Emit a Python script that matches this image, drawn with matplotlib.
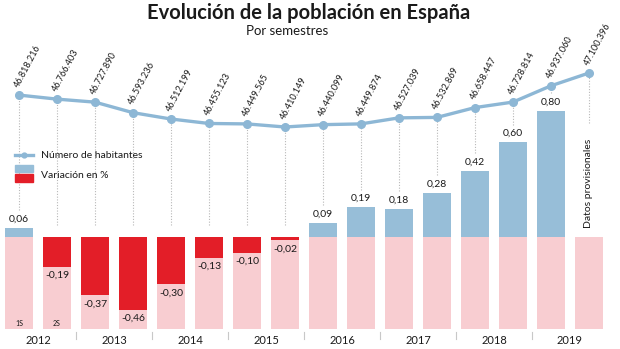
import matplotlib
matplotlib.use("Agg")
import matplotlib.pyplot as plt
import numpy as np

plt.rcParams['font.family'] = ['Lato', 'DejaVu Sans']

# ---- data ----
semesters = ["1S", "2S"] * 8
years = ["2012", "2013", "2014", "2015", "2016", "2017", "2018", "2019"]
population = [46818216, 46766403, 46727890, 46593236, 46512199, 46455123,
              46449565, 46410149, 46440099, 46449874, 46527039, 46532869,
              46658447, 46728814, 46937060, 47100396]
variation = [0.06, -0.19, -0.37, -0.46, -0.30, -0.13, -0.10, -0.02,
             0.09, 0.19, 0.18, 0.28, 0.42, 0.60, 0.80, None]
title = "Evolución de la población en España"
subtitle = "Por semestres"
legend_line = "Número de habitantes"
legend_bar = "Variación en %"
provisional = "Datos provisionales"

# ---- style ----
BLUE = "#97bed8"
LINE = "#8db7d5"
RED = "#e31e28"
PINK = "#f8cdd1"
TXT = "#1a1a1a"
DOT = "#b8b8b8"

W, H = 620, 349
fig = plt.figure(figsize=(W / 100, H / 100), dpi=100)
ax = fig.add_axes([0, 0, 1, 1])
ax2 = ax.twinx()
for a in (ax, ax2):
    a.set_axis_off()

ax.set_xlim(-0.5, 15.816)
ax.set_ylim(-0.709, 1.5)
ax2.set_ylim(43572363, 48033567)

x = np.arange(len(population))
bw = 0.72

# pink background bars
ax.bar(x, [-0.582] * len(x), width=bw, color=PINK, zorder=1)
# variation bars
for i, v in enumerate(variation):
    if v is None:
        continue
    ax.bar(i, v, width=bw, color=BLUE if v >= 0 else RED, zorder=2)
    lab = f"{v:.2f}".replace(".", ",")
    if v >= 0:
        ax.annotate(lab, (i, v), xytext=(0, 3), textcoords="offset points",
                    ha="center", va="bottom", fontsize=7.5, color=TXT, zorder=4)
    else:
        ax.annotate(lab, (i, v), xytext=(0, -3), textcoords="offset points",
                    ha="center", va="top", fontsize=7.5, color=TXT, zorder=4)

# semester labels on first year
for i in range(2):
    ax.text(i, -0.545, semesters[i], ha="center", va="center", fontsize=5, color=TXT, zorder=4)

# line
ax2.plot(x, population, color=LINE, lw=2.4, marker="o", ms=5.5, zorder=5,
         solid_capstyle="round")
for i, p in enumerate(population):
    lab = f"{p:,}".replace(",", ".")
    ax2.annotate(lab, (i, p), xytext=(1.5, 4.5), textcoords="offset points",
                 rotation=62, rotation_mode="anchor", ha="left", va="bottom",
                 fontsize=6.6, color=TXT, zorder=6)

# dotted connectors
fig.canvas.draw()
to1 = lambda xi, p: ax.transData.inverted().transform(ax2.transData.transform((xi, p)))[1]
for i, p in enumerate(population):
    v = variation[i]
    if v is None:
        low = 0.72
    elif v >= 0:
        low = v + 0.11
    else:
        low = 0.075
    ax.plot([i, i], [low, to1(i, p)], color=DOT, lw=0.8, ls=(0, (1, 1.5)), zorder=0)

# provisional label
ax.text(15, 0.06, provisional, rotation=90, ha="center", va="bottom",
        fontsize=7.5, color=TXT)

# year labels and separators
for k, yr in enumerate(years):
    ax.text(2 * k + 0.5, -0.655, yr, ha="center", va="center", fontsize=8, color=TXT)
for k in range(1, len(years)):
    ax.plot([2 * k - 0.5] * 2, [-0.60, -0.645], color="#c8c8c8", lw=0.8)

# legend
ax.plot([15 / W, 33 / W], [1 - 155 / H] * 2, transform=fig.transFigure, color=LINE, lw=2.4)
ax.plot([24 / W], [1 - 155 / H], transform=fig.transFigure, color=LINE, marker="o", ms=3.5)
fig.patches.append(plt.Rectangle((15 / W, 1 - 172 / H), 18 / W, 7 / H,
                                 transform=fig.transFigure, color=BLUE))
fig.patches.append(plt.Rectangle((15 / W, 1 - 182 / H), 18 / W, 8 / H,
                                 transform=fig.transFigure, color=RED))
fig.text(41 / W, 1 - 155 / H, legend_line, fontsize=7.5, color=TXT, va="center")
fig.text(41 / W, 1 - 175 / H, legend_bar, fontsize=7.5, color=TXT, va="center")

# titles
fig.text(309 / W, 1 - 13 / H, title, ha="center", va="center", fontsize=14.5,
         fontweight="bold", color=TXT)
fig.text(287 / W, 1 - 31 / H, subtitle, ha="center", va="center", fontsize=9.5, color=TXT)

fig.savefig("out.png", dpi=100)
